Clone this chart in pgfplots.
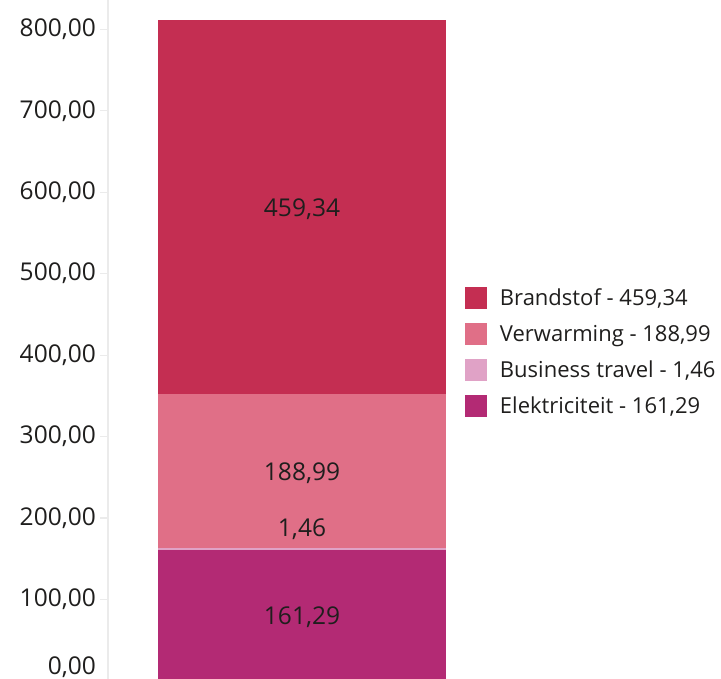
\documentclass[border=0pt]{standalone}
\usepackage{fontspec}
\setmainfont{Open Sans}
\usepackage{pgfplots}
\pgfplotsset{compat=1.18}

\definecolor{brandstof}{HTML}{C42E52}
\definecolor{verwarming}{HTML}{E06F87}
\definecolor{business}{HTML}{E0A2C6}
\definecolor{elektra}{HTML}{B32A74}
\definecolor{txt}{HTML}{1F1E1D}
\definecolor{axgray}{HTML}{EBEBEB}

\begin{document}
\begin{tikzpicture}
\path[use as bounding box] (-108pt,2pt) rectangle (613pt,681pt);
\begin{axis}[
  at={(0pt,0pt)}, anchor=south west,
  scale only axis, width=388pt, height=681pt,
  ybar stacked, bar width=288pt,
  xmin=-0.5, xmax=0.5, ymin=0, ymax=836,
  clip=false,
  axis y line*=left, axis x line=none,
  xtick=\empty,
  y axis line style={draw=axgray, line width=1.2pt},
  ytick style={draw=axgray, line width=1.2pt},
  tick align=outside, major tick length=8pt,
  ytick={0,100,...,800},
  yticklabels={{\raisebox{6pt}[0pt][0pt]{0,00}},{100,00},{200,00},{300,00},{400,00},{500,00},{600,00},{700,00},{800,00}},
  yticklabel style={font=\fontsize{24.5}{28}\selectfont, text=txt, inner sep=0pt, xshift=-4pt},
  reverse legend,
  legend cell align=left,
  legend style={draw=none, fill=none, inner sep=0pt, outer sep=0pt,
    at={(0.92,0.483)}, anchor=west,
    font=\fontsize{22}{24}\selectfont, text=txt,
    nodes={inner sep=0pt}, row sep=14pt,
    /tikz/every odd column/.append style={column sep=13pt}},
  legend image code/.code={\fill[#1] (0pt,-11pt) rectangle (22pt,11pt);},
  after end axis/.code={
    \path (axis cs:0,578.8) node[font=\fontsize{24.5}{28}\selectfont, text=txt] {459,34};
    \path (axis cs:0,255.6) node[font=\fontsize{24.5}{28}\selectfont, text=txt] {188,99};
    \path (axis cs:0,186.8) node[font=\fontsize{24.5}{28}\selectfont, text=txt] {1,46};
    \path (axis cs:0,78.6) node[font=\fontsize{24.5}{28}\selectfont, text=txt] {161,29};
  },
]
\addplot[fill=elektra, draw=none] coordinates {(0,161.29)};
\addlegendentry{Elektriciteit - 161,29}
\addplot[fill=business, draw=none] coordinates {(0,1.46)};
\addlegendentry{Business travel - 1,46}
\addplot[fill=verwarming, draw=none] coordinates {(0,188.99)};
\addlegendentry{Verwarming - 188,99}
\addplot[fill=brandstof, draw=none] coordinates {(0,459.34)};
\addlegendentry{Brandstof - 459,34}
\end{axis}
\end{tikzpicture}
\end{document}
